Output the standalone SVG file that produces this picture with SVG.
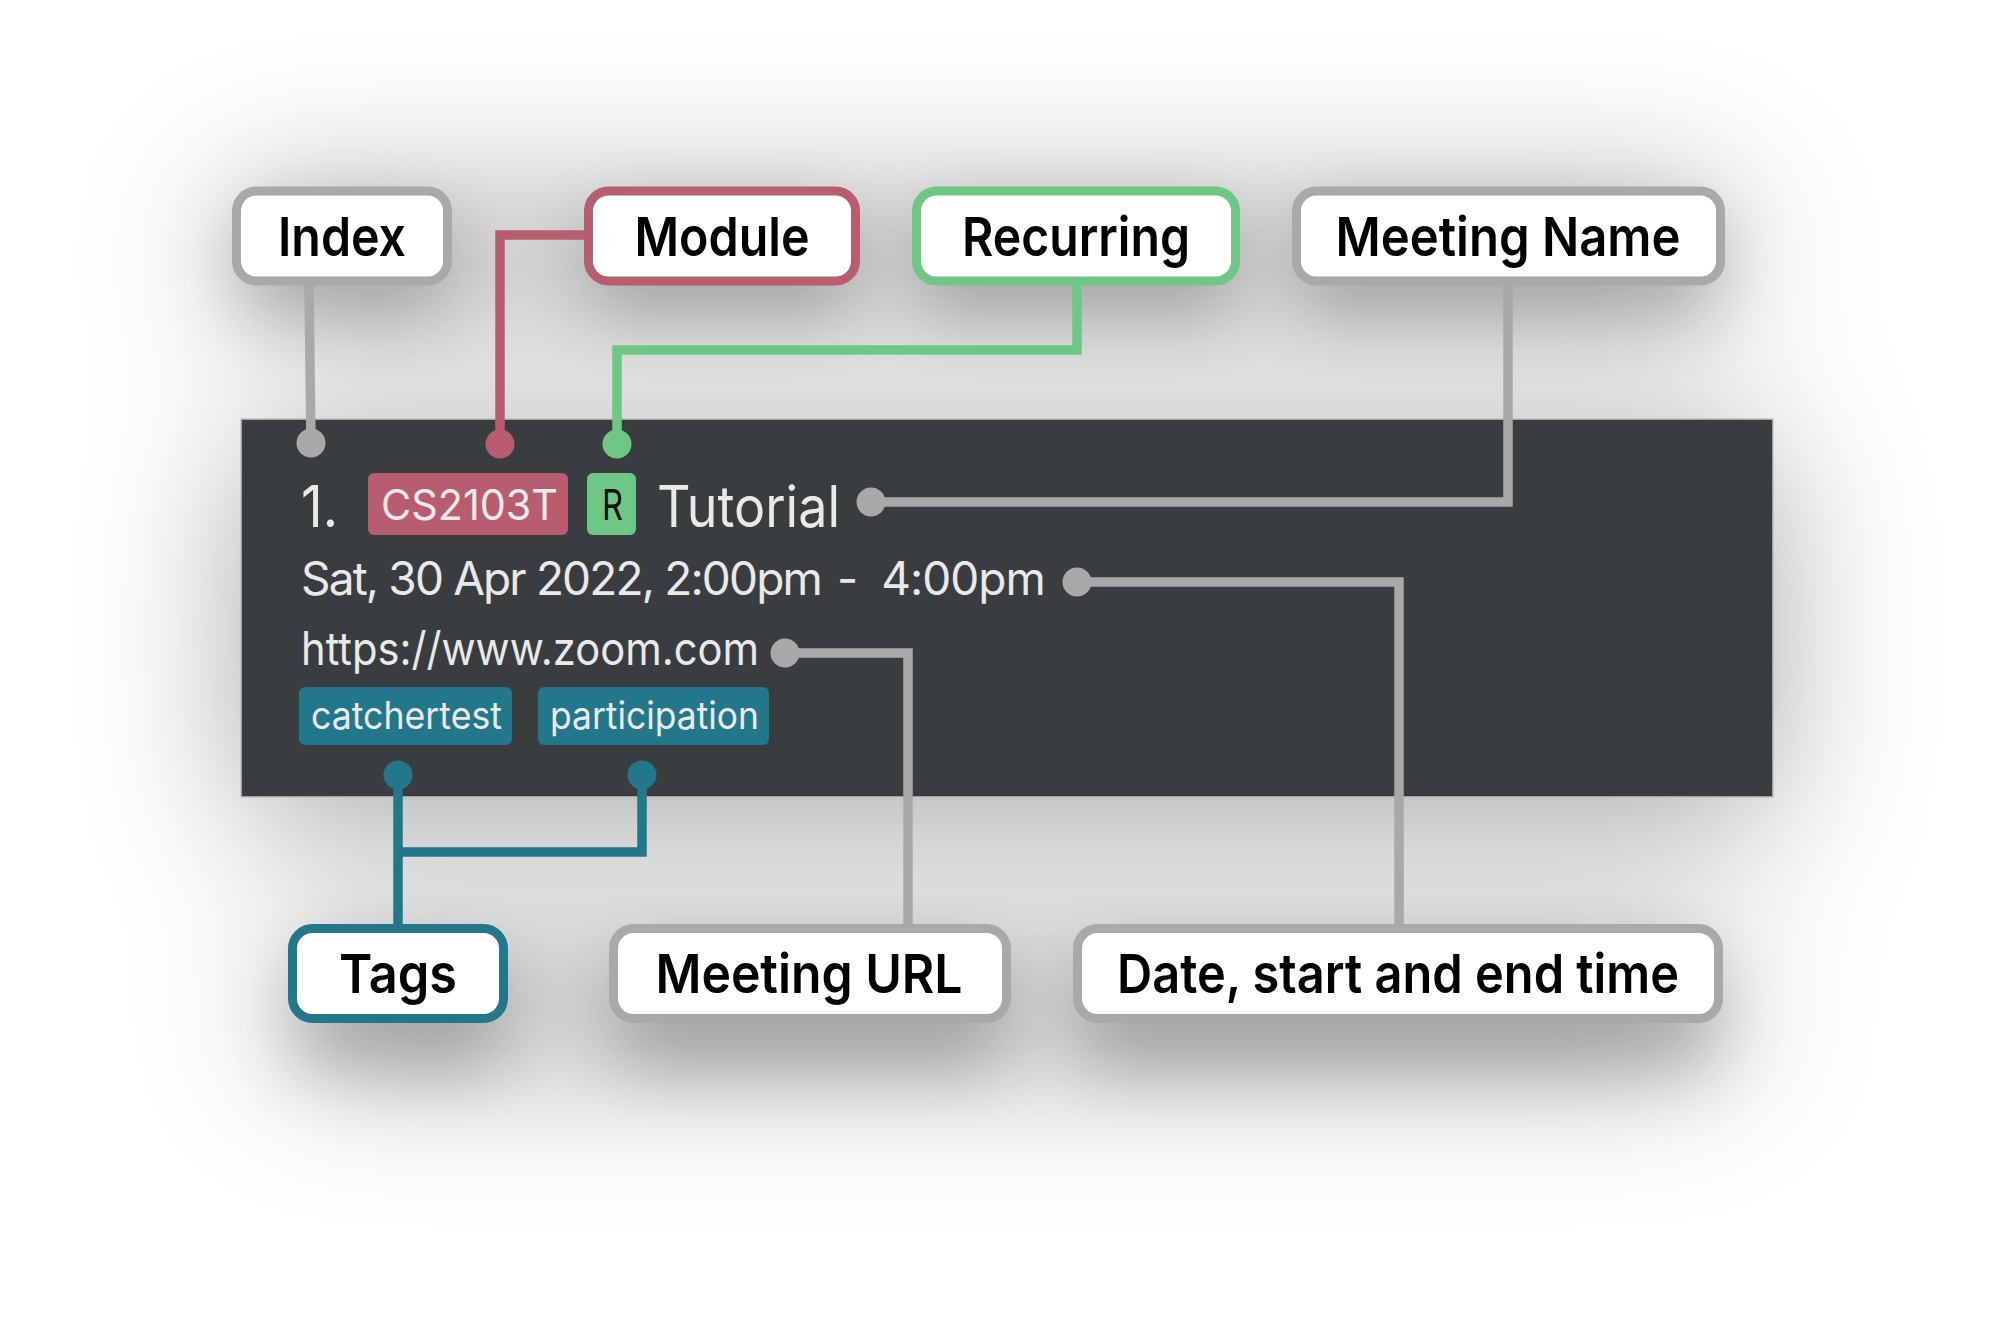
<svg xmlns="http://www.w3.org/2000/svg" width="2007" height="1320" viewBox="0 0 2007 1320">
  <defs>
    <filter id="soft" x="-40%" y="-80%" width="180%" height="260%">
      <feGaussianBlur stdDeviation="80"/>
    </filter>
    <filter id="boxsh" x="-40%" y="-100%" width="180%" height="400%">
      <feGaussianBlur stdDeviation="35"/>
    </filter>
    <style>
      .lbl { fill:#ffffff; stroke-width:9; }
      .lt { font-family: Inter, "Liberation Sans", sans-serif; font-weight:600; font-size:54px; fill:#000; text-anchor:middle; }
      .pt { font-family: Inter, "Liberation Sans", sans-serif; font-weight:400; fill:#e9e9e9; }
      .con { fill:none; stroke-width:9.5; stroke-linejoin:miter; stroke-linecap:butt; }
      .gray { stroke:#a9a9a9; }
      .rose { stroke:#b85d6f; }
      .green { stroke:#6fc785; }
      .teal { stroke:#23778a; }
    </style>
  </defs>
  <rect width="2007" height="1320" fill="#ffffff"/>

  <!-- soft shadows -->
  <g filter="url(#soft)" opacity="0.34">
    <rect x="241" y="445" width="1532" height="378" fill="#000"/>
    <rect x="232" y="200" width="1493" height="110" fill="#000"/>
    <rect x="288" y="950" width="1435" height="110" fill="#000"/>
  </g>
  <g filter="url(#boxsh)" opacity="0.22">
    <rect x="240" y="215" width="205" height="100" rx="20" fill="#000"/>
    <rect x="592" y="215" width="260" height="100" rx="20" fill="#000"/>
    <rect x="920" y="215" width="312" height="100" rx="20" fill="#000"/>
    <rect x="1300" y="215" width="417" height="100" rx="20" fill="#000"/>
    <rect x="296" y="960" width="205" height="110" rx="20" fill="#000"/>
    <rect x="617" y="960" width="386" height="110" rx="20" fill="#000"/>
    <rect x="1081" y="960" width="634" height="110" rx="20" fill="#000"/>
  </g>

  <!-- panel -->
  <g id="panel">
    <rect x="241" y="419" width="1532" height="378" fill="#3a3d3f" stroke="#c4c4c4" stroke-width="1.5"/>
    <text class="pt" x="301" y="527" font-size="57" textLength="37" lengthAdjust="spacingAndGlyphs">1.</text>
    <rect x="368" y="473" width="200" height="62" rx="6" fill="#b85d6f"/>
    <text class="pt" x="381" y="520" font-size="42" textLength="177" lengthAdjust="spacingAndGlyphs" fill="#f3eaec">CS2103T</text>
    <rect x="587" y="473" width="49" height="62" rx="6" fill="#6fc785"/>
    <text x="602" y="520" font-family="Inter, 'Liberation Sans', sans-serif" font-size="42" fill="#111" textLength="21" lengthAdjust="spacingAndGlyphs">R</text>
    <text class="pt" x="657" y="527" font-size="57" textLength="183" lengthAdjust="spacingAndGlyphs">Tutorial</text>
    <text class="pt" x="301" y="595" font-size="46" letter-spacing="-1.85">Sat, 30 Apr 2022, 2:00pm<tspan dx="5"> -</tspan><tspan dx="13" letter-spacing="-1"> 4:00pm</tspan></text>
    <text class="pt" x="301" y="665" font-size="46" textLength="458" lengthAdjust="spacingAndGlyphs">https://www.zoom.com</text>
    <rect x="299" y="687" width="213" height="58" rx="6" fill="#23778a"/>
    <text class="pt" x="311" y="729" font-size="38" textLength="191" lengthAdjust="spacingAndGlyphs">catchertest</text>
    <rect x="538" y="687" width="231" height="58" rx="6" fill="#23778a"/>
    <text class="pt" x="550" y="729" font-size="38" textLength="209" lengthAdjust="spacingAndGlyphs">participation</text>
  </g>

  <!-- connectors -->
  <g id="connectors">
    <path class="con gray" d="M309,285 L311,443"/>
    <circle cx="311" cy="443" r="14.5" fill="#a9a9a9"/>
    <path class="con rose" d="M584,235 H500 V444"/>
    <circle cx="500" cy="444" r="14.5" fill="#b85d6f"/>
    <path class="con green" d="M1077,285 V350 H617 V444"/>
    <circle cx="617" cy="444" r="14.5" fill="#6fc785"/>
    <path class="con gray" d="M1508,285 V502 H871"/>
    <circle cx="871" cy="502" r="14.5" fill="#a9a9a9"/>
    <path class="con gray" d="M1077,582 H1399 V924"/>
    <circle cx="1077" cy="582" r="14.5" fill="#a9a9a9"/>
    <path class="con gray" d="M785,653 H908 V924"/>
    <circle cx="785" cy="653" r="14.5" fill="#a9a9a9"/>
    <path class="con teal" d="M398,775 V924"/>
    <path class="con teal" d="M642,775 V852 H398"/>
    <circle cx="398" cy="775" r="14.5" fill="#23778a"/>
    <circle cx="642" cy="775" r="14.5" fill="#23778a"/>
  </g>

  <!-- label nodes -->
  <g id="index">
    <rect class="lbl" x="236.5" y="191" width="211" height="90" rx="20" stroke="#a9a9a9"/>
    <text class="lt" x="342" y="256" textLength="128" lengthAdjust="spacingAndGlyphs">Index</text>
  </g>
  <g id="module">
    <rect class="lbl" x="588.5" y="191" width="267" height="90" rx="20" stroke="#b85d6f"/>
    <text class="lt" x="722" y="256" textLength="175" lengthAdjust="spacingAndGlyphs">Module</text>
  </g>
  <g id="recurring">
    <rect class="lbl" x="916.5" y="191" width="319" height="90" rx="20" stroke="#6fc785"/>
    <text class="lt" x="1076" y="256" textLength="228" lengthAdjust="spacingAndGlyphs">Recurring</text>
  </g>
  <g id="meeting-name">
    <rect class="lbl" x="1296.5" y="191" width="424" height="90" rx="20" stroke="#a9a9a9"/>
    <text class="lt" x="1508" y="256" textLength="345" lengthAdjust="spacingAndGlyphs">Meeting Name</text>
  </g>
  <g id="tags">
    <rect class="lbl" x="292.5" y="928.5" width="211" height="90" rx="20" stroke="#23778a"/>
    <text class="lt" x="398" y="993" textLength="118" lengthAdjust="spacingAndGlyphs">Tags</text>
  </g>
  <g id="meeting-url">
    <rect class="lbl" x="613.5" y="928.5" width="393" height="90" rx="20" stroke="#a9a9a9"/>
    <text class="lt" x="809" y="993" textLength="307" lengthAdjust="spacingAndGlyphs">Meeting URL</text>
  </g>
  <g id="date-time">
    <rect class="lbl" x="1077.5" y="928.5" width="641" height="90" rx="20" stroke="#a9a9a9"/>
    <text class="lt" x="1398" y="993" textLength="562" lengthAdjust="spacingAndGlyphs">Date, start and end time</text>
  </g>
</svg>
